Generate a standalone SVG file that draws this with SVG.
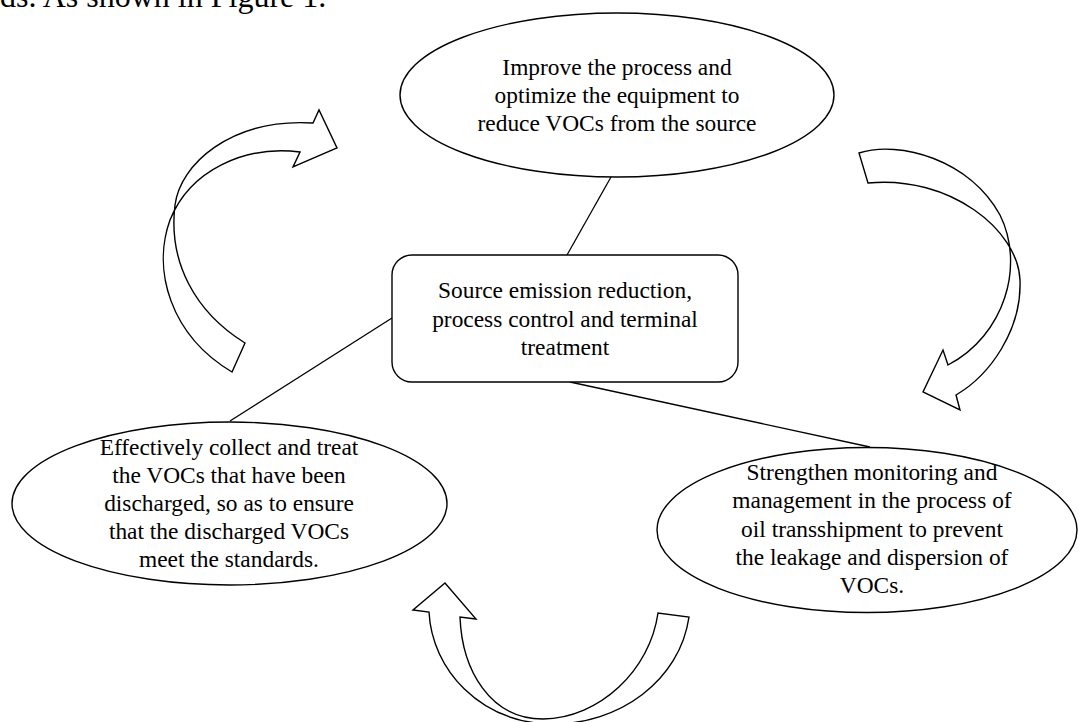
<svg xmlns="http://www.w3.org/2000/svg" width="1079" height="722" viewBox="0 0 1079 722">
<style>
.shape{fill:#fff;stroke:#000;stroke-width:1.4}
.arrow{fill:#fff;stroke:#000;stroke-width:1.4;stroke-linejoin:miter}
.conn{fill:none;stroke:#000;stroke-width:1.3}
text{font-family:"Liberation Serif","Times New Roman",serif;font-size:23.4px;fill:#000;text-anchor:middle}
.cap{font-size:32px;text-anchor:start}
</style>
<rect width="1079" height="722" fill="#fff"/>
<text class="cap" x="0" y="7">ds. As shown in Figure 1.</text>
<g id="connectors">
<line class="conn" x1="611" y1="177" x2="567" y2="255"/>
<line class="conn" x1="392" y1="318" x2="230" y2="421"/>
<line class="conn" x1="570" y1="382" x2="870" y2="447"/>
</g>
<g id="arrow-left">
<path class="arrow" d="M245,343 C195,312 168,262 175,205 C180,165 230,118 313,123 L319,110 L337,148 L293,167 L300,152 C245,145 190,170 170,220 C152,270 170,335 232,372 Z"/>
</g>
<g id="arrow-right">
<path class="arrow" d="M859,153 C900,140 970,160 1000,215 C1025,265 1005,335 948,365 L943,350 L923,392 L960,410 L956,395 C990,375 1022,330 1020,280 C1018,230 950,175 868,183 Z"/>
</g>
<g id="arrow-bottom">
<path class="arrow" d="M429,612 C432,670 480,722 550,724 C620,725 680,680 689,617 L658,613 C650,670 600,718 543,719 C490,719 462,670 460,617 L476,619 L445,583 L413,610 Z"/>
</g>
<g id="node-top">
<ellipse class="shape" cx="617" cy="95" rx="217" ry="82"/>
<text x="617" y="75">Improve the process and</text>
<text x="617" y="103">optimize the equipment to</text>
<text x="617" y="131">reduce VOCs from the source</text>
</g>
<g id="node-center">
<rect class="shape" x="392" y="255" width="346" height="127" rx="20" ry="20"/>
<text x="565" y="298">Source emission reduction,</text>
<text x="565" y="327">process control and terminal</text>
<text x="565" y="355">treatment</text>
</g>
<g id="node-left">
<ellipse class="shape" cx="229.5" cy="503.5" rx="217.5" ry="81.5"/>
<text x="229" y="455">Effectively collect and treat</text>
<text x="229" y="483">the VOCs that have been</text>
<text x="229" y="511">discharged, so as to ensure</text>
<text x="229" y="539">that the discharged VOCs</text>
<text x="229" y="567">meet the standards.</text>
</g>
<g id="node-right">
<ellipse class="shape" cx="867" cy="530" rx="210" ry="82.5"/>
<text x="872" y="480">Strengthen monitoring and</text>
<text x="872" y="508">management in the process of</text>
<text x="872" y="537">oil transshipment to prevent</text>
<text x="872" y="565">the leakage and dispersion of</text>
<text x="872" y="593">VOCs.</text>
</g>
</svg>
